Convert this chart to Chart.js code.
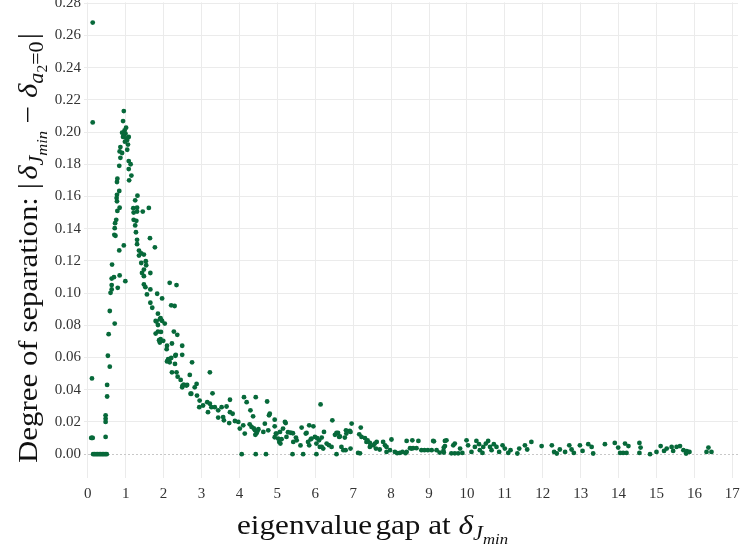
<!DOCTYPE html>
<html>
<head>
<meta charset="utf-8">
<script src="https://cdn.jsdelivr.net/npm/chart.js@4"></script>
<style>
    html, body { margin: 0; padding: 0; background: #ffffff; }
    #wrap { width: 744px; height: 546px; }
</style>
</head>
<body>
<div id="wrap"><canvas id="gap-chart" width="744" height="546"></canvas></div>
<script>
// ==========================================================================
// Data: [eigenvalue gap, degree of separation]
// ==========================================================================
const risePoints = [
    [0.13,0.268],[0.13,0.206],[0.11,0.047],
    [0.09,0.0101],[0.11,0.0101],[0.13,0.0101],
    [0.14,0],[0.18,0],[0.22,0],[0.26,0],[0.30,0],[0.34,0],[0.38,0],[0.42,0],[0.46,0],[0.50,0],
    [0.47,0.0107],[0.47,0.020],[0.47,0.022],[0.47,0.0241],
    [0.51,0.0358],[0.51,0.043],[0.58,0.0543],[0.53,0.0611],[0.55,0.0745],[0.58,0.0889],[0.71,0.0811],
    [0.60,0.1002],[0.63,0.1023],[0.63,0.105],[0.79,0.1033],[0.63,0.109],[0.69,0.1099],[0.84,0.111],[0.64,0.1177],
    [0.99,0.1074],[0.83,0.1265],[0.95,0.1296],[0.70,0.1362],[0.73,0.1356],[0.71,0.1403],[0.72,0.1434],[0.75,0.1455],
    [0.78,0.151],[0.84,0.153],[0.77,0.157],[0.76,0.159],[0.77,0.161],[0.83,0.1634],[0.77,0.169],[0.78,0.171],[0.83,0.179],
    [0.86,0.184],[0.905,0.187],[0.84,0.188],[0.86,0.1907]
];

const peakPoints = [
    [0.95,0.213],[0.93,0.2068],[1.01,0.2027],[0.97,0.201],[0.905,0.1996],[0.995,0.199],[0.95,0.198],
    [1.08,0.197],[0.93,0.197],[1.02,0.196],[1.04,0.195],[0.98,0.194],[1.06,0.1922],[1.04,0.189],
    [1.08,0.182],[1.13,0.180],[1.08,0.177],[1.15,0.173],[1.09,0.170]
];

const fallPoints = [
    [1.31,0.1605],[1.25,0.1576],[1.20,0.1527],[1.30,0.153],[1.61,0.1529],[1.45,0.1506],[1.21,0.150],[1.30,0.1506],
    [1.21,0.1455],[1.28,0.1449],[1.25,0.142],[1.27,0.1378],[1.30,0.1331],[1.64,0.1341],[1.30,0.1304],[1.77,0.1284],
    [1.35,0.1264],[1.41,0.1247],[1.48,0.1239],[1.35,0.1233],[1.41,0.1187],[1.53,0.1198],[1.54,0.1173],[1.48,0.1146],
    [1.43,0.1125],[1.48,0.1105],[1.65,0.1125],[1.48,0.1054],[1.52,0.1037],[1.56,0.0992],[1.65,0.1023],[2.16,0.1064],
    [2.34,0.105],[1.83,0.0996],[1.96,0.0967],[1.65,0.094],[1.70,0.0909],[2.20,0.0924],[2.29,0.092],
    [1.85,0.0872],[1.92,0.0844],[1.79,0.0827],[1.85,0.0802],[1.96,0.0827],[2.03,0.0811],[1.90,0.0838],[1.81,0.0823],
    [1.85,0.0761],[1.93,0.0759],[1.79,0.0749],[2.27,0.0761],[2.36,0.0741],[1.92,0.0714],[1.99,0.0704],[1.90,0.0693],
    [1.88,0.0708],[2.22,0.0687],[2.09,0.0673],[2.08,0.0652],[2.49,0.0673],[2.31,0.0611],[2.49,0.0617],[2.32,0.0617],
    [2.14,0.058],[2.20,0.0597],[2.09,0.0576],[2.16,0.057],[2.12,0.059],[2.30,0.056],[2.75,0.057],[2.22,0.0508],
    [2.34,0.0508],[2.37,0.0481],[2.45,0.0461],[2.69,0.0492],[3.22,0.0508],
    [2.53,0.0432],[2.49,0.0415],[2.60,0.0426],[2.50,0.0426],[2.62,0.043],[2.87,0.0436],[2.82,0.0415],[2.73,0.0375],
    [2.71,0.0375],[2.88,0.0364],[3.29,0.0378]
];

const decayPoints = [
    [2.95,0.0333],[2.94,0.0292],[3.04,0.0302],[3.15,0.0323],[3.22,0.0313],[3.26,0.0292],[3.35,0.0292],[3.17,0.0261],
    [3.44,0.0272],[3.66,0.0296],[3.75,0.0338],[3.53,0.0292],[3.44,0.0227],[3.57,0.023],[3.59,0.021],[3.75,0.0261],
    [3.82,0.0251],[3.73,0.0193],[3.88,0.0206],[3.97,0.020],[4.01,0.0159],
    [4.12,0.0354],[4.19,0.0323],[4.43,0.0354],[4.73,0.0327],[4.29,0.0272],[4.36,0.0235],[4.10,0.0179],[4.27,0.0185],
    [4.14,0.0128],[4.32,0.0169],[4.41,0.0148],[4.38,0.016],[4.45,0.013],[4.50,0.0155],[4.42,0.012],[4.48,0.0145],
    [4.67,0.0189],[4.63,0.0138],[4.76,0.0148],[4.78,0.0241],[4.80,0.0251],[4.93,0.0214],[4.96,0.0128],[5.05,0.0076],
    [4.06,0],[4.43,0],[4.70,0],
    [5.20,0.020],[5.22,0.0193],[5.15,0.0159],[5.28,0.0136],[5.35,0.0133],[5.41,0.013],[4.98,0.0128],[4.93,0.0105],
    [5.02,0.0097],[5.11,0.0093],[5.08,0.0066],[5.24,0.0107],[4.93,0.0173],[5.07,0.0138],
    [5.64,0.0165],[5.84,0.0179],[5.95,0.0173],[5.77,0.0132],[5.75,0.0128],[5.51,0.0086],[5.61,0.0054],[5.42,0.0076],[5.49,0.0103],
    [5.40,0],[5.68,0],[6.03,0],
    [5.81,0.0076],[5.90,0.0097],[5.99,0.0107],[6.10,0.0086],[5.88,0.0092],[6.05,0.0099],[5.84,0.0055],[6.03,0.0066],
    [6.12,0.0045],[6.21,0.0035],[6.30,0.0066],[6.36,0.0056],[6.43,0.0045],[6.17,0.0045],
    [6.14,0.0309],[6.45,0.021],[6.96,0.019],[7.20,0.0165],[6.23,0.0138],[6.17,0.0103],[6.52,0.012],[6.60,0.0132],
    [6.65,0.011],[6.81,0.0148],[6.91,0.0144],[6.78,0.0103],[6.56,0.0132],[6.63,0.0107],[6.82,0.0128],[6.93,0.0138],
    [6.69,0.0045],[6.80,0.0025],[6.93,0.0035],[6.74,0.0025],[6.56,0]
];

const tailPoints = [
    [7.13,0.0008],[7.18,0.0005],[7.16,0.0123],[7.22,0.0107],[7.31,0.01],[7.38,0.0085],[7.44,0.007],[7.35,0.0076],
    [7.53,0.0055],[7.62,0.0076],[7.60,0.0035],[7.44,0.0045],[7.57,0.0066],[7.70,0.0029],[7.79,0.0076],[7.84,0.0055],
    [7.88,0.0045],[7.88,0.0014],[8.01,0.0091],[7.97,0.0025],
    [8.10,0.0014],[8.16,0.0006],[8.23,0.0008],[8.30,0.0014],[8.38,0.0006],[8.41,0.0014],[8.41,0.0082],[8.56,0.0086],
    [8.72,0.0082],[8.50,0.0037],[8.58,0.0037],[8.67,0.0037],[8.54,0.0035],
    [8.80,0.0025],[8.88,0.0025],[8.97,0.0025],[9.07,0.0025],[9.13,0.008],[9.11,0.0082],[9.20,0.0025],[9.28,0.001],
    [9.38,0.002],[9.46,0.0086],[9.42,0.005],
    [9.42,0.0082],[9.39,0.0041],[9.39,0.001],[9.59,0.0005],[9.68,0.0005],[9.77,0.0005],[9.64,0.0055],[9.82,0.0035],
    [9.88,0.0008],[9.68,0.0066],[9.99,0.0086],[10.03,0.0055],[10.12,0.0014],[10.21,0.0045],[10.25,0.0082],[10.32,0.0062],
    [10.34,0.0025],[10.41,0.0008],[10.43,0.0045],[10.50,0.0066],[10.56,0.0082],[10.61,0.0045],[10.65,0.0025],[10.71,0.0062],
    [10.78,0.0045],[10.85,0.0014],[10.94,0.0055],[11.00,0.0035],[11.09,0.0008],[11.15,0.0025],[11.33,0.0004],[11.38,0.0035],
    [11.53,0.0055],[11.59,0.0029],[11.70,0.0076],[11.97,0.005],
    [12.24,0.0055],[12.30,0.0014],[12.37,0.0004],[12.45,0.0029],[12.59,0.0014],[12.70,0.0055],[12.76,0.0029],[12.82,0.0008],
    [12.98,0.0055],[13.05,0.002],[13.20,0.0062],[13.29,0.0045],[13.33,0.0004],[13.64,0.0062],[13.90,0.007],[13.99,0.0041],
    [14.04,0.0008],[14.12,0.0008],[14.21,0.0008],[14.17,0.0066],[14.26,0.005],[14.55,0.007],[14.58,0.0041],[14.55,0.0008],
    [14.83,0],[15.00,0.0014],[15.11,0.005],[15.20,0.002],[15.27,0.0035],[15.40,0.0045],[15.44,0.002],[15.53,0.0045],
    [15.62,0.005],[15.71,0.0025],[15.78,0.0004],[15.80,0.0019],[15.87,0.0014],[16.32,0.0014],[16.37,0.0041],[16.45,0.0014]
];

const xTicks = [0, 1, 2, 3, 4, 5, 6, 7, 8, 9, 10, 11, 12, 13, 14, 15, 16, 17];
const yTicks = [0, 0.02, 0.04, 0.06, 0.08, 0.10, 0.12, 0.14, 0.16, 0.18, 0.20, 0.22, 0.24, 0.26, 0.28];

// ==========================================================================
// Styles
// ==========================================================================
const POINT_COLOR = '#07693a';
const GRID_COLOR = '#ebebeb';
const TICK_COLOR = '#333333';
const SERIF = "'Liberation Serif', 'Times New Roman', serif";

// --- Axis titles with math subscripts, drawn as runs of text ---
const xTitleRuns = [
    { text: 'eigenvalue', size: 28, after: 3 },
    { text: 'gap at ', size: 28 },
    { text: 'δ', size: 28, italic: true },
    { text: 'J', size: 20, italic: true, dy: 6 },
    { text: 'min', size: 15, italic: true, dy: 10 }
];

const yTitleRuns = [
    { text: 'Degree of separation: ', size: 28 },
    { text: '|', size: 28, after: 3 },
    { text: 'δ', size: 28, italic: true },
    { text: 'J', size: 20, italic: true, dy: 6 },
    { text: 'min', size: 15, italic: true, dy: 10 },
    { text: ' − ', size: 28 },
    { text: 'δ', size: 28, italic: true },
    { text: 'a', size: 20, italic: true, dy: 6 },
    { text: '2', size: 14, dy: 10 },
    { text: '=0', size: 20, dy: 6, after: 2 },
    { text: '|', size: 28 }
];

function runFont(run) {
    return (run.italic ? 'italic ' : '') + run.size + 'px ' + SERIF;
}

function runsWidth(ctx, runs) {
    let w = 0;
    runs.forEach(run => {
        ctx.font = runFont(run);
        w += ctx.measureText(run.text).width + (run.after || 0);
    });
    return w;
}

// Draws runs from (0,0) along +x, stretched to span `length` pixels
function drawRuns(ctx, runs, length) {
    const natural = runsWidth(ctx, runs);
    ctx.save();
    ctx.scale(length / natural, 1);
    let x = 0;
    runs.forEach(run => {
        ctx.font = runFont(run);
        ctx.fillText(run.text, x, run.dy || 0);
        x += ctx.measureText(run.text).width + (run.after || 0);
    });
    ctx.restore();
}

const axisTitlePlugin = {
    id: 'axisTitles',
    afterDraw(chart) {
        const ctx = chart.ctx;
        ctx.save();
        ctx.fillStyle = '#111111';
        ctx.textBaseline = 'alphabetic';
        ctx.textAlign = 'left';

        ctx.save();
        ctx.translate(237, 534);
        drawRuns(ctx, xTitleRuns, 271);
        ctx.restore();

        ctx.save();
        ctx.translate(37, 463);
        ctx.rotate(-Math.PI / 2);
        drawRuns(ctx, yTitleRuns, 430);
        ctx.restore();

        ctx.restore();
    }
};

// --- Dotted reference line at zero ---
const zeroLinePlugin = {
    id: 'zeroLine',
    beforeDatasetsDraw(chart) {
        const { ctx, chartArea, scales } = chart;
        const y = Math.round(scales.y.getPixelForValue(0)) + 0.5;
        ctx.save();
        ctx.strokeStyle = '#c8c8c8';
        ctx.lineWidth = 1;
        ctx.setLineDash([2, 2]);
        ctx.beginPath();
        ctx.moveTo(chartArea.left, y);
        ctx.lineTo(chartArea.right, y);
        ctx.stroke();
        ctx.restore();
    }
};

// ==========================================================================
// Chart
// ==========================================================================
const allPoints = [].concat(risePoints, peakPoints, fallPoints, decayPoints, tailPoints)
    .map(([x, y]) => ({ x, y }));

const tickFont = { family: SERIF, size: 15 };

new Chart(document.getElementById('gap-chart').getContext('2d'), {
    type: 'scatter',
    data: {
        datasets: [{
            data: allPoints,
            backgroundColor: POINT_COLOR,
            borderWidth: 0,
            pointRadius: 2.4,
            pointHoverRadius: 2.4
        }]
    },
    options: {
        responsive: false,
        animation: false,
        devicePixelRatio: 1,
        layout: { padding: { left: 0, right: 6, top: 0, bottom: 0 } },
        plugins: {
            legend: { display: false },
            tooltip: { enabled: false }
        },
        scales: {
            x: {
                type: 'linear',
                min: -0.1,
                max: 17.15,
                afterBuildTicks: s => { s.ticks = xTicks.map(v => ({ value: v })); },
                afterFit: s => { s.height = 68; s.paddingLeft = 0; s.paddingRight = 0; },
                grid: { color: GRID_COLOR, drawTicks: false },
                border: { display: false },
                ticks: { padding: 7, color: TICK_COLOR, font: tickFont, callback: v => String(v) }
            },
            y: {
                type: 'linear',
                min: -0.0148,
                max: 0.2805,
                afterBuildTicks: s => { s.ticks = yTicks.map(v => ({ value: v })); },
                afterFit: s => { s.width = 84; s.paddingTop = 0; s.paddingBottom = 0; },
                grid: {
                    color: c => (c.tick && c.tick.value === 0) ? 'rgba(0,0,0,0)' : GRID_COLOR,
                    drawTicks: false
                },
                border: { display: false },
                ticks: { padding: 3, color: TICK_COLOR, font: tickFont, callback: v => v.toFixed(2) }
            }
        }
    },
    plugins: [zeroLinePlugin, axisTitlePlugin]
});
</script>
</body>
</html>
